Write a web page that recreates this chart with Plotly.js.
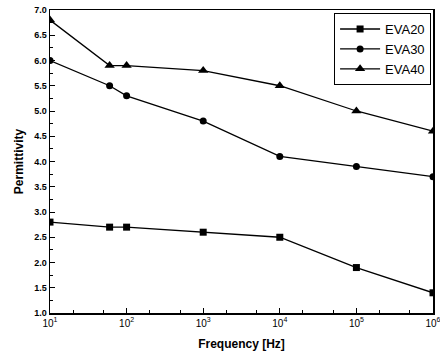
<!DOCTYPE html>
<html><head><meta charset="utf-8">
<script src="https://cdn.plot.ly/plotly-3.0.1.min.js"></script>
<style>html,body{margin:0;padding:0;background:#fff}#c{width:440px;height:363px}</style>
</head><body><div id="c"></div>
<script>
const freq = [10, 60, 100, 1000, 10000, 100000, 1000000];
const eva20 = [2.8, 2.7, 2.7, 2.6, 2.5, 1.9, 1.4];
const eva30 = [6.0, 5.5, 5.3, 4.8, 4.1, 3.9, 3.7];
const eva40 = [6.8, 5.9, 5.9, 5.8, 5.5, 5.0, 4.6];
const names = ['EVA20', 'EVA30', 'EVA40'];
const xTickVals = [10, 100, 1000, 10000, 100000, 1000000];
const xTickText = ['10<sup>1</sup>', '10<sup>2</sup>', '10<sup>3</sup>', '10<sup>4</sup>', '10<sup>5</sup>', '10<sup>6</sup>'];

const symbols = ['square', 'circle', 'triangle-up'];
const series = [eva20, eva30, eva40];
const data = series.map((s, i) => ({
  x: freq, y: s, name: names[i], type: 'scatter', mode: 'lines+markers',
  line: {color: '#000', width: 1.3},
  marker: {symbol: symbols[i], size: i === 2 ? 9 : 7, color: '#000'},
  cliponaxis: true
}));

const layout = {
  width: 440, height: 363,
  margin: {l: 50, r: 7, t: 10, b: 50},
  paper_bgcolor: '#fff', plot_bgcolor: '#fff',
  font: {family: 'Liberation Sans, Arial, sans-serif', color: '#000'},
  showlegend: true,
  legend: {x: 0.995, xanchor: 'right', y: 0.99, yanchor: 'top',
    bordercolor: '#000', borderwidth: 1, bgcolor: '#fff',
    font: {size: 13}, tracegroupgap: 0, itemwidth: 40},
  xaxis: {
    type: 'log', range: [1, 6],
    tickvals: xTickVals, ticktext: xTickText,
    ticklabeloverflow: 'allow',
    ticks: 'inside', ticklen: 5, tickcolor: '#000',
    minor: {ticks: 'inside', ticklen: 3, tickcolor: '#000', showgrid: false},
    showline: true, linecolor: '#000', linewidth: 1.5, mirror: true,
    showgrid: false, zeroline: false,
    tickfont: {size: 10, family: 'Liberation Sans, Arial, sans-serif'},
    title: {text: '<b>Frequency [Hz]</b>', font: {size: 12}, standoff: 12}
  },
  yaxis: {
    range: [1.0, 7.0], dtick: 0.5, tick0: 1.0, tickformat: '.1f',
    ticks: 'inside', ticklen: 5, tickcolor: '#000',
    minor: {ticks: 'inside', ticklen: 3, dtick: 0.25, tickcolor: '#000', showgrid: false},
    showline: true, linecolor: '#000', linewidth: 1.5, mirror: true,
    showgrid: false, zeroline: false,
    tickfont: {size: 9, family: 'Liberation Sans, Arial, sans-serif', weight: 'bold'},
    title: {text: '<b>Permittivity</b>', font: {size: 12}, standoff: 8}
  }
};
Plotly.newPlot('c', data, layout, {displayModeBar: false, staticPlot: true});
</script></body></html>
